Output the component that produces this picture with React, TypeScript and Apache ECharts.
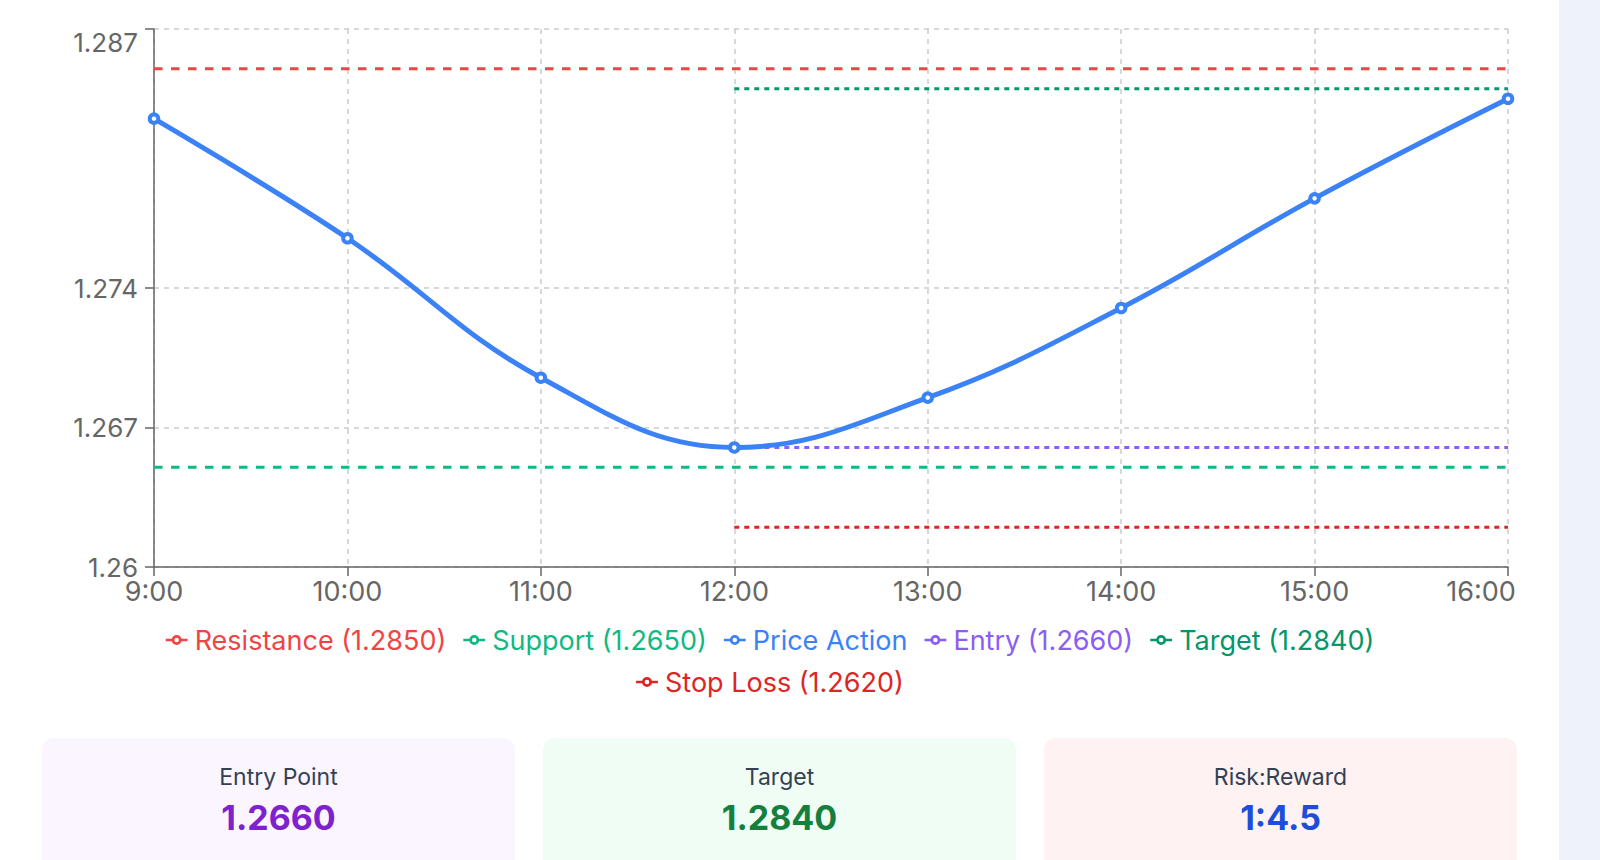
import React, { useEffect, useRef } from 'react';
import * as echarts from 'echarts';

const categories = ['9:00', '10:00', '11:00', '12:00', '13:00', '14:00', '15:00', '16:00'];
const priceAction = [1.2825, 1.2765, 1.2695, 1.266, 1.2685, 1.273, 1.2785, 1.2835];
const resistanceLevel = 1.285;
const supportLevel = 1.265;
const entryLevel = 1.266;
const targetLevel = 1.284;
const stopLossLevel = 1.262;
const tradeStart = '12:00';
const yMin = 1.26;
const yMax = 1.287;
const yTicks = [1.26, 1.267, 1.274, 1.287];
const riskReward = '1:4.5';

const FONT = 'Inter, "Noto Sans", sans-serif';

const ICON =
  'path://M0,14H9V18H0Z M23,14H32V18H23Z M8.67,16A7.33,7.33,0,1,1,23.33,16A7.33,7.33,0,1,1,8.67,16Z M12.67,16A3.33,3.33,0,1,0,19.33,16A3.33,3.33,0,1,0,12.67,16Z';

const fmtTick = (v: number) => String(+v.toFixed(3));

function App() {
  const ref = useRef<HTMLDivElement>(null);

  useEffect(() => {
    if (!ref.current) return;
    const chart = echarts.init(ref.current, undefined, { renderer: 'svg' });
    const startIdx = categories.indexOf(tradeStart);
    const lastCat = categories[categories.length - 1];
    const full = (v: number) => categories.map(() => v);
    const partial = (v: number) => categories.map((_, i) => (i >= startIdx ? v : null));

    const levels = [
      { name: `Resistance (${resistanceLevel.toFixed(4)})`, color: '#ef4444', data: full(resistanceLevel), dash: [8.5, 8.5] },
      { name: `Support (${supportLevel.toFixed(4)})`, color: '#10b981', data: full(supportLevel), dash: [8.5, 8.5] },
      { name: `Entry (${entryLevel.toFixed(4)})`, color: '#8b5cf6', data: partial(entryLevel), dash: [5, 5] },
      { name: `Target (${targetLevel.toFixed(4)})`, color: '#059669', data: partial(targetLevel), dash: [5, 5] },
      { name: `Stop Loss (${stopLossLevel.toFixed(4)})`, color: '#dc2626', data: partial(stopLossLevel), dash: [5, 5] },
    ];
    const priceColor = '#3b82f6';
    const legendOrder = [levels[0], levels[1], { name: 'Price Action', color: priceColor }, levels[2], levels[3]];
    const legendCommon = {
      left: 'center',
      orient: 'horizontal',
      itemWidth: 22,
      itemHeight: 10,
      itemGap: 17,
      icon: ICON,
      selectedMode: false,
      itemStyle: { borderWidth: 0 },
      textStyle: { fontSize: 27, fontFamily: FONT, lineHeight: 30, padding: [0, 0, 0, 2] },
    };

    const option: any = {
      animation: false,
      grid: { left: 154, right: 32, top: 29, bottom: 153, containLabel: false },
      legend: [
        {
          ...legendCommon,
          top: 620,
          data: legendOrder.map((l) => ({
            name: l.name,
            textStyle: { color: l.color },
            itemStyle: { color: l.color, borderWidth: 0 },
          })),
        },
        {
          ...legendCommon,
          top: 662,
          data: [
            {
              name: levels[4].name,
              textStyle: { color: levels[4].color },
              itemStyle: { color: levels[4].color, borderWidth: 0 },
            },
          ],
        },
      ],
      xAxis: {
        type: 'category',
        data: categories,
        boundaryGap: false,
        axisLine: { show: true, lineStyle: { color: '#666', width: 1.5 } },
        axisTick: { show: true, length: 9, interval: 0, lineStyle: { color: '#666', width: 1.5 } },
        axisLabel: {
          interval: 0,
          color: '#666',
          fontSize: 27,
          fontFamily: FONT,
          margin: 11,
          formatter: (v: string) => (v === lastCat ? `{last|${v}}` : v),
          rich: { last: { padding: [0, 54, 0, 0], fontSize: 27, color: '#666', fontFamily: FONT } },
        },
        splitLine: { show: true, interval: 0, lineStyle: { color: '#ccc', type: [5, 5], width: 1.5 } },
      },
      yAxis: {
        type: 'value',
        min: yMin,
        max: yMax,
        axisLine: { show: true, lineStyle: { color: '#666', width: 1.5 } },
        axisTick: { show: true, length: 9, customValues: yTicks, lineStyle: { color: '#666', width: 1.5 } },
        axisLabel: {
          customValues: yTicks,
          color: '#666',
          fontSize: 26,
          fontFamily: FONT,
          margin: 16,
          formatter: (v: number) => (Math.abs(v - yMax) < 1e-9 ? `{top|${fmtTick(v)}}` : fmtTick(v)),
          rich: { top: { padding: [26, 0, 0, 0], fontSize: 26, color: '#666', fontFamily: FONT } },
        },
        splitLine: { show: true, lineStyle: { color: '#ccc', type: [5, 5], width: 1.5 } },
      },
      series: [
        ...levels.map((l) => ({
          name: l.name,
          type: 'line',
          data: l.data,
          color: l.color,
          symbol: 'none',
          showSymbol: false,
          silent: true,
          z: 3,
          lineStyle: { color: l.color, width: 3, type: l.dash },
        })),
        {
          name: 'Price Action',
          type: 'line',
          data: priceAction,
          color: priceColor,
          smooth: 0.4,
          symbol: 'circle',
          symbolSize: 8.5,
          showSymbol: true,
          z: 5,
          itemStyle: { color: '#ffffff', borderColor: priceColor, borderWidth: 4 },
          lineStyle: { color: priceColor, width: 5 },
        },
      ],
    };
    chart.setOption(option);
    return () => chart.dispose();
  }, []);

  const cards = [
    { label: 'Entry Point', value: entryLevel.toFixed(4), bg: '#faf5ff', color: '#7e22ce', left: 42 },
    { label: 'Target', value: targetLevel.toFixed(4), bg: '#f0fdf4', color: '#15803d', left: 543 },
    { label: 'Risk:Reward', value: riskReward, bg: '#fef2f2', color: '#1d4ed8', left: 1044 },
  ];

  return (
    <div
      style={{
        position: 'absolute',
        left: 0,
        top: 0,
        width: 1600,
        height: 860,
        overflow: 'hidden',
        background: '#eef3fb',
        fontFamily: FONT,
      }}
    >
      <div style={{ position: 'absolute', left: 0, top: 0, width: 1559, height: 860, background: '#ffffff' }}>
        <div ref={ref} style={{ position: 'absolute', left: 0, top: 0, width: 1540, height: 720 }} />
        {cards.map((c) => (
          <div
            key={c.label}
            style={{
              position: 'absolute',
              left: c.left,
              top: 738,
              width: 473,
              height: 160,
              borderRadius: 12,
              background: c.bg,
              textAlign: 'center',
            }}
          >
            <div style={{ marginTop: 23, fontSize: 23, lineHeight: '32px', color: '#334155' }}>{c.label}</div>
            <div style={{ marginTop: 3, fontSize: 34, lineHeight: '44px', fontWeight: 700, color: c.color }}>
              {c.value}
            </div>
          </div>
        ))}
      </div>
    </div>
  );
}

export default App;
